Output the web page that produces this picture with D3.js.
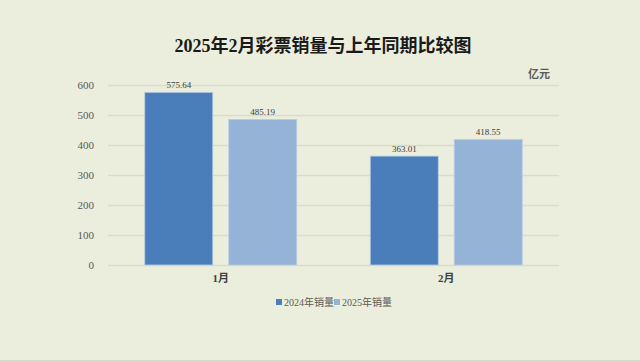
<!DOCTYPE html>
<html>
<head>
<meta charset="UTF-8">
<title>2025年2月彩票销量与上年同期比较图</title>
<script src="https://cdn.jsdelivr.net/npm/d3@7"></script>
<style>
  body { margin: 0; background: #ebeedc; }
  svg { display: block; }
</style>
</head>
<body>
<svg id="chart" width="640" height="362"></svg>
<script>
// months on the x axis
var months = ["1月", "2月"]
// series names
var series = ["2024年销量", "2025年销量"]
// sales, 亿元
var sales2024 = [575.64, 363.01]
var sales2025 = [485.19, 418.55]
var yTicks = [0, 100, 200, 300, 400, 500, 600]
var colors = ["#4a7ebb", "#95b3d7"]

var numFont = "'Liberation Serif', 'Noto Sans CJK SC', serif"
var svg = d3.select("#chart")
// plot area (window.top is reserved, hence the prefix)
var plotL = 108, plotR = 559, plotT = 85, plotB = 265

svg.append("rect").attr("width", 640).attr("height", 362).attr("fill", "#ebeedc")
svg.append("rect").attr("y", 360).attr("width", 640).attr("height", 2).attr("fill", "#d6d8cc")

var y = d3.scaleLinear().domain([0, 600]).range([plotB, plotT])
var x0 = d3.scaleBand().domain(months).range([plotL, plotR]).paddingInner(0.326).paddingOuter(0.163)
var x1 = d3.scaleBand().domain(series).range([0, x0.bandwidth()]).paddingInner(0.19)

// grid + y labels
var yAxis = d3.axisLeft(y).tickValues(yTicks).tickSize(-(plotR - plotL)).tickPadding(14)
var ga = svg.append("g").attr("transform", "translate(" + plotL + ",0)").call(yAxis)
ga.select(".domain").remove()
ga.selectAll("line").attr("stroke", "#d9dbd0").attr("stroke-width", 1.5)
ga.selectAll("text").attr("fill", "#595959").style("font-family", numFont).style("font-size", "11px")

svg.append("text").attr("x", 550).attr("y", 78).attr("text-anchor", "end")
  .attr("fill", "#595959").style("font-family", numFont).style("font-size", "11px").style("font-weight", "bold")
  .text("亿元")

var rows = months.map(function (m, i) { return { month: m, vals: [sales2024[i], sales2025[i]] } })
var groups = svg.selectAll(".grp").data(rows).enter().append("g")
  .attr("transform", function (d) { return "translate(" + x0(d.month) + ",0)" })

groups.selectAll("rect").data(function (d) { return d.vals }).enter().append("rect")
  .attr("x", function (d, i) { return x1(series[i]) })
  .attr("y", function (d) { return y(d) })
  .attr("width", x1.bandwidth())
  .attr("height", function (d) { return y(0) - y(d) })
  .attr("fill", function (d, i) { return colors[i] })
  .attr("stroke", "#b9cde4").attr("stroke-width", 0.8)

groups.selectAll(".val").data(function (d) { return d.vals }).enter().append("text")
  .attr("x", function (d, i) { return x1(series[i]) + x1.bandwidth() / 2 })
  .attr("y", function (d) { return y(d) - 4 })
  .attr("text-anchor", "middle").attr("fill", "#404040")
  .style("font-family", numFont).style("font-size", "9px")
  .text(function (d) { return d.toFixed(2) })

// x labels
var xAxis = d3.axisBottom(x0).tickSize(0).tickPadding(9)
var gx = svg.append("g").attr("transform", "translate(0," + plotB + ")").call(xAxis)
gx.select(".domain").remove()
gx.selectAll("text").attr("fill", "#404040").style("font-family", numFont).style("font-size", "11px").style("font-weight", "bold")

// title
svg.append("text").attr("x", 323).attr("y", 52).attr("text-anchor", "middle")
  .attr("fill", "#1a1a1a").style("font-family", numFont).style("font-size", "18px").style("font-weight", "bold")
  .text("2025年2月彩票销量与上年同期比较图")

// legend
var lg = svg.append("g").attr("transform", "translate(276,298)")
var lx = [0, 58]
series.forEach(function (s, i) {
  lg.append("rect").attr("x", lx[i]).attr("y", 1).attr("width", 6).attr("height", 6).attr("fill", colors[i])
  lg.append("text").attr("x", lx[i] + 8).attr("y", 8).attr("fill", "#595959")
    .style("font-family", numFont).style("font-size", "10px").text(s)
})
</script>
</body>
</html>
